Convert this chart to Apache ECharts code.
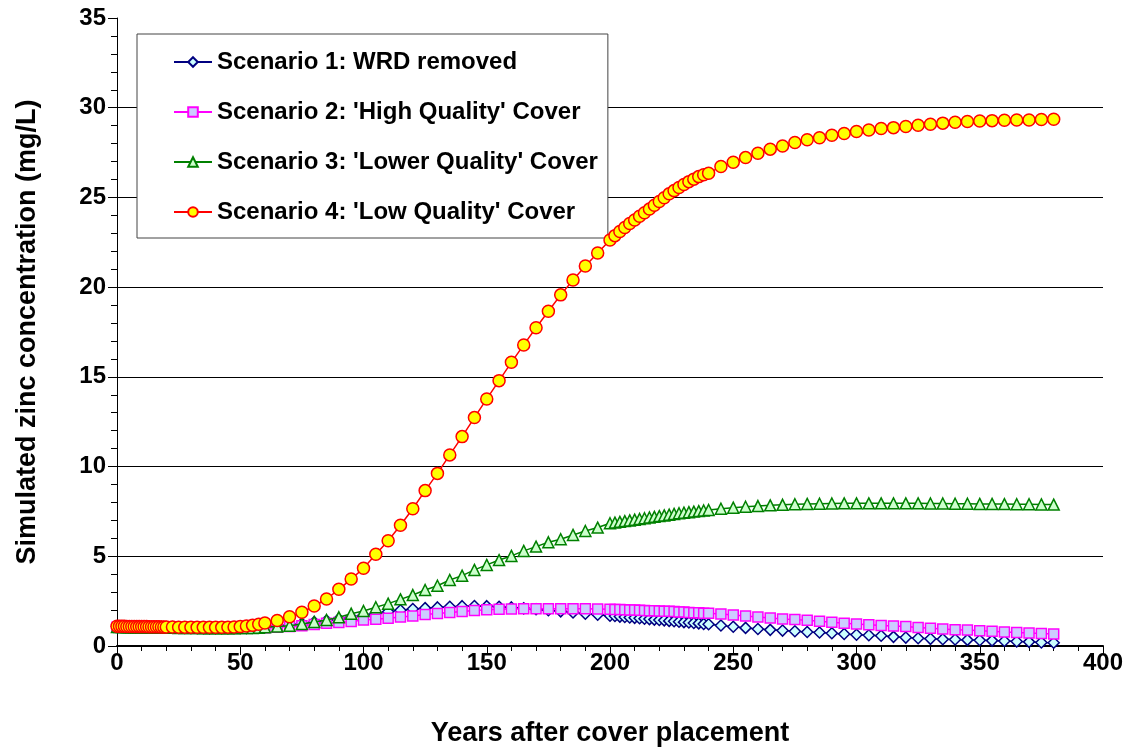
<!DOCTYPE html>
<html>
<head>
<meta charset="utf-8">
<script src="https://cdn.jsdelivr.net/npm/echarts@6/dist/echarts.min.js"></script>
<style>
html,body{margin:0;padding:0;background:#fff;}
#chart{width:1126px;height:748px;}
</style>
</head>
<body>
<div id="chart"></div>
<script>
// Years after cover placement (x values of every plotted point)
const years = [0,1,2,3,4,5,6,7,8,9,10,11,12,13,14,15,16,17,18,19,20,
  22.5,25,27.5,30,32.5,35,37.5,40,42.5,45,47.5,50,52.5,55,57.5,60,
  65,70,75,80,85,90,95,100,105,110,115,120,125,130,135,140,145,150,155,160,165,170,175,180,185,190,195,
  200,202,204,206,208,210,212,214,216,218,220,222,224,226,228,230,232,234,236,238,240,
  245,250,255,260,265,270,275,280,285,290,295,300,305,310,315,320,325,330,335,340,345,350,355,360,365,370,375,380];

const scenario1 = [1.08,1.08,1.08,1.08,1.07,1.07,1.07,1.07,1.06,1.06,1.06,1.06,1.05,1.05,1.05,1.05,1.04,1.04,1.04,1.04,1.03,
  1.03,1.02,1.02,1.01,1.01,1.00,1.00,1.00,1.00,1.00,1.00,1.00,1.01,1.02,1.03,1.05,
  1.10,1.17,1.25,1.33,1.42,1.51,1.61,1.72,1.82,1.91,1.99,2.06,2.11,2.15,2.19,2.22,2.23,2.22,2.19,2.15,2.10,2.05,1.99,1.93,1.87,1.80,1.74,
  1.69,1.67,1.64,1.62,1.59,1.57,1.55,1.52,1.50,1.47,1.45,1.43,1.40,1.38,1.35,1.33,1.31,1.28,1.26,1.23,1.21,
  1.14,1.07,1.01,0.95,0.90,0.86,0.82,0.78,0.75,0.71,0.67,0.63,0.60,0.57,0.51,0.47,0.43,0.40,0.38,0.36,0.34,0.32,0.30,0.28,0.25,0.23,0.20,0.18];

const scenario2 = [1.05,1.05,1.05,1.05,1.05,1.05,1.04,1.04,1.04,1.04,1.04,1.04,1.03,1.03,1.03,1.03,1.03,1.03,1.02,1.02,1.02,
  1.02,1.02,1.01,1.01,1.01,1.00,1.00,1.00,1.00,1.00,1.00,1.00,1.00,1.01,1.01,1.02,
  1.05,1.08,1.13,1.20,1.27,1.31,1.36,1.45,1.49,1.54,1.61,1.67,1.76,1.81,1.87,1.92,1.98,2.02,2.05,2.06,2.07,2.08,2.08,2.08,2.08,2.07,2.06,
  2.05,2.04,2.03,2.02,2.01,2.00,1.99,1.98,1.97,1.96,1.95,1.94,1.93,1.92,1.90,1.89,1.87,1.86,1.85,1.83,1.82,
  1.78,1.73,1.67,1.61,1.56,1.51,1.47,1.43,1.38,1.32,1.27,1.23,1.18,1.14,1.11,1.08,1.03,0.99,0.95,0.91,0.89,0.85,0.82,0.78,0.75,0.72,0.70,0.67];

const scenario3 = [1.06,1.06,1.06,1.06,1.05,1.05,1.05,1.05,1.05,1.04,1.04,1.04,1.04,1.04,1.03,1.03,1.03,1.03,1.03,1.02,1.02,
  1.02,1.01,1.01,1.00,1.00,0.99,0.99,0.99,0.99,0.99,0.99,1.00,1.00,1.01,1.02,1.04,
  1.08,1.13,1.23,1.34,1.45,1.60,1.80,1.95,2.16,2.36,2.60,2.84,3.12,3.36,3.68,3.92,4.24,4.52,4.79,5.02,5.30,5.54,5.78,5.95,6.19,6.41,6.60,
  6.84,6.88,6.92,6.96,7.00,7.04,7.08,7.12,7.16,7.20,7.24,7.28,7.32,7.36,7.40,7.43,7.46,7.49,7.52,7.55,7.58,
  7.65,7.71,7.76,7.80,7.84,7.87,7.90,7.92,7.93,7.94,7.95,7.95,7.95,7.95,7.95,7.95,7.95,7.94,7.94,7.93,7.93,7.92,7.92,7.91,7.90,7.90,7.89,7.88];

const scenario4 = [1.10,1.10,1.10,1.10,1.09,1.09,1.09,1.09,1.08,1.08,1.08,1.08,1.08,1.07,1.07,1.07,1.07,1.07,1.06,1.06,1.06,
  1.06,1.05,1.05,1.05,1.04,1.04,1.04,1.04,1.04,1.05,1.06,1.08,1.11,1.15,1.21,1.28,
  1.42,1.63,1.88,2.23,2.62,3.16,3.73,4.33,5.11,5.87,6.73,7.65,8.66,9.62,10.65,11.67,12.73,13.77,14.79,15.81,16.78,17.74,18.66,19.57,20.40,21.18,21.90,
  22.63,22.87,23.10,23.32,23.55,23.74,23.95,24.15,24.35,24.56,24.77,24.98,25.20,25.38,25.55,25.72,25.88,26.02,26.16,26.26,26.35,
  26.72,26.96,27.22,27.46,27.69,27.87,28.06,28.21,28.33,28.47,28.56,28.67,28.76,28.84,28.89,28.95,29.02,29.08,29.14,29.19,29.23,29.26,29.28,29.30,29.32,29.32,29.34,29.36];

const seriesNames = ["Scenario 1: WRD removed", "Scenario 2: 'High Quality' Cover", "Scenario 3: 'Lower Quality' Cover", "Scenario 4: 'Low Quality' Cover"];
const xTitle = "Years after cover placement";
const yTitle = "Simulated zinc concentration (mg/L)";

const FONT = "'Liberation Sans', Arial, sans-serif";
const pair = arr => years.map((x, i) => [x, arr[i]]);

const styles = [
  {line:'#000080', fill:'#CCFFFF', symbol:'diamond', size:11},
  {line:'#FF00FF', fill:'#CCCCFF', symbol:'rect', size:10},
  {line:'#008000', fill:'#CCFFCC', symbol:'triangle', size:11},
  {line:'#FF0000', fill:'#FFFF00', symbol:'circle', size:12}
];
const dataSets = [scenario1, scenario2, scenario3, scenario4];

const chart = echarts.init(document.getElementById('chart'), null, {renderer:'canvas'});
chart.setOption({
  animation: false,
  backgroundColor: '#fff',
  grid: {left:117, right:23, top:18, bottom:102, containLabel:false, outerBoundsMode:'none'},
  legend: {
    orient: 'vertical',
    left: 137, top: 34,
    padding: [16, 10, 14, 36],
    itemGap: 26,
    itemWidth: 38,
    itemHeight: 12,
    borderColor: '#444',
    borderWidth: 1,
    backgroundColor: '#fff',
    textStyle: {fontFamily: FONT, fontWeight:'bold', fontSize:24, color:'#000', lineHeight:24},
    data: seriesNames
  },
  xAxis: {
    type: 'value', min: 0, max: 400, interval: 50,
    name: xTitle, nameLocation: 'middle', nameGap: 74,
    nameTextStyle: {fontFamily: FONT, fontWeight:'bold', fontSize:27, color:'#000'},
    axisLine: {show:true, onZero:false, lineStyle:{color:'#000', width:2}},
    axisTick: {show:true, inside:false, length:9, lineStyle:{color:'#000', width:1}},
    minorTick: {show:true, splitNumber:5, length:5, lineStyle:{color:'#000', width:1}},
    axisLabel: {fontFamily: FONT, fontWeight:'bold', fontSize:24, color:'#000', margin:5},
    splitLine: {show:false}
  },
  yAxis: {
    type: 'value', min: 0, max: 35, interval: 5,
    name: yTitle, nameLocation: 'middle', nameGap: 76, nameRotate: 90,
    nameTextStyle: {fontFamily: FONT, fontWeight:'bold', fontSize:27, color:'#000'},
    axisLine: {show:true, onZero:false, lineStyle:{color:'#000', width:1}},
    axisTick: {show:true, inside:false, length:9, lineStyle:{color:'#000', width:1}},
    minorTick: {show:true, splitNumber:5, length:6, lineStyle:{color:'#000', width:1}},
    axisLabel: {fontFamily: FONT, fontWeight:'bold', fontSize:24, color:'#000', margin:11},
    splitLine: {show:true, showMinLine:false, showMaxLine:false, lineStyle:{color:'#000', width:1}}
  },
  series: dataSets.map((d, i) => ({
    name: seriesNames[i],
    type: 'line',
    data: pair(d),
    symbol: styles[i].symbol,
    symbolSize: styles[i].size,
    showAllSymbol: true,
    lineStyle: {color: styles[i].line, width: 1.5},
    itemStyle: {color: styles[i].fill, borderColor: styles[i].line, borderWidth: 1.5},
    z: 2 + i
  }))
});
</script>
</body>
</html>
